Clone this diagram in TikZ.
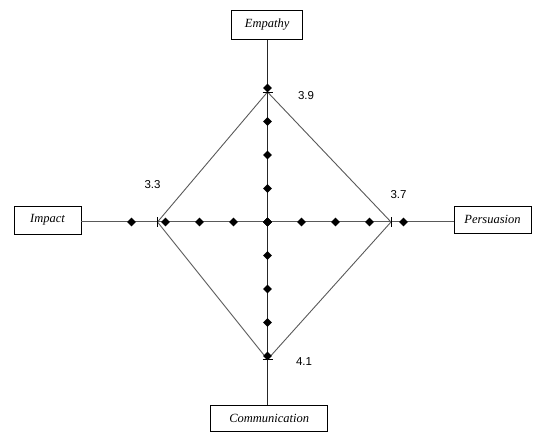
\documentclass[tikz,border=0pt]{standalone}
\usepackage{fontspec}
\setmainfont{Liberation Serif}
\newfontfamily\lblfont{Liberation Sans}
\usetikzlibrary{shapes.geometric}
\begin{document}
\begin{tikzpicture}[x=1pt,y=-1pt,
  axbox/.style={draw=black, line width=0.9pt, fill=white, inner sep=0pt, font=\fontsize{12.5}{14}\selectfont\itshape},
  dmd/.style={diamond, fill=black, inner sep=0pt, minimum width=9pt, minimum height=9pt},
  axline/.style={line width=1pt, draw=black!85},
  hline/.style={line width=1pt, draw=black!65},
  rline/.style={line width=0.9pt, draw=black!65},
  tick/.style={line width=0.9pt, draw=black},
  val/.style={font=\lblfont\fontsize{11.5}{13}\selectfont}]
\useasboundingbox (0,0) rectangle (536,435);
% boxes
\node[axbox, minimum width=71pt, minimum height=29pt] (emp) at (267.2,24.6) {Empathy};
\node[axbox, minimum width=67pt, minimum height=28pt] (imp) at (47.5,220) {Impact};
\node[axbox, minimum width=77pt, minimum height=27pt] (per) at (492.5,219.7) {Persuasion};
\node[axbox, minimum width=117pt, minimum height=26pt] (com) at (269.2,418.8) {Communication};
\coordinate (c) at (267.5,222);
% axes
\draw[axline] (emp.south) -- (emp.south |- com.north);
\draw[hline] (imp.east |- c) -- (per.west |- c);
% values ticks
\coordinate (t) at (267.5,92);
\coordinate (b) at (267.5,359.5);
\coordinate (l) at (157.5,222);
\coordinate (r) at (391,222);
\draw[rline] (t) -- (r) -- (b) -- (l) -- cycle;
\draw[tick] ([xshift=-5pt]t) -- ([xshift=5pt]t);
\draw[tick] ([xshift=-5pt]b) -- ([xshift=5pt]b);
\draw[tick] ([yshift=-5pt]l) -- ([yshift=5pt]l);
\draw[tick] ([yshift=-5pt]r) -- ([yshift=5pt]r);
% markers
\foreach \k in {0,1,2,3,4} {
  \node[dmd] (u\k) at (267.5,222-33.5*\k) {};
  \node[dmd] (d\k) at (267.5,222+33.5*\k) {};
  \node[dmd] (lf\k) at (267.5-34*\k,222) {};
  \node[dmd] (rt\k) at (267.5+34*\k,222) {};
}
% labels
\node[val] (v39) at (306,96) {3.9};
\node[val] (v33) at (152.5,184.5) {3.3};
\node[val] (v37) at (398.5,195) {3.7};
\node[val] (v41) at (304,361.5) {4.1};
\end{tikzpicture}
\end{document}
